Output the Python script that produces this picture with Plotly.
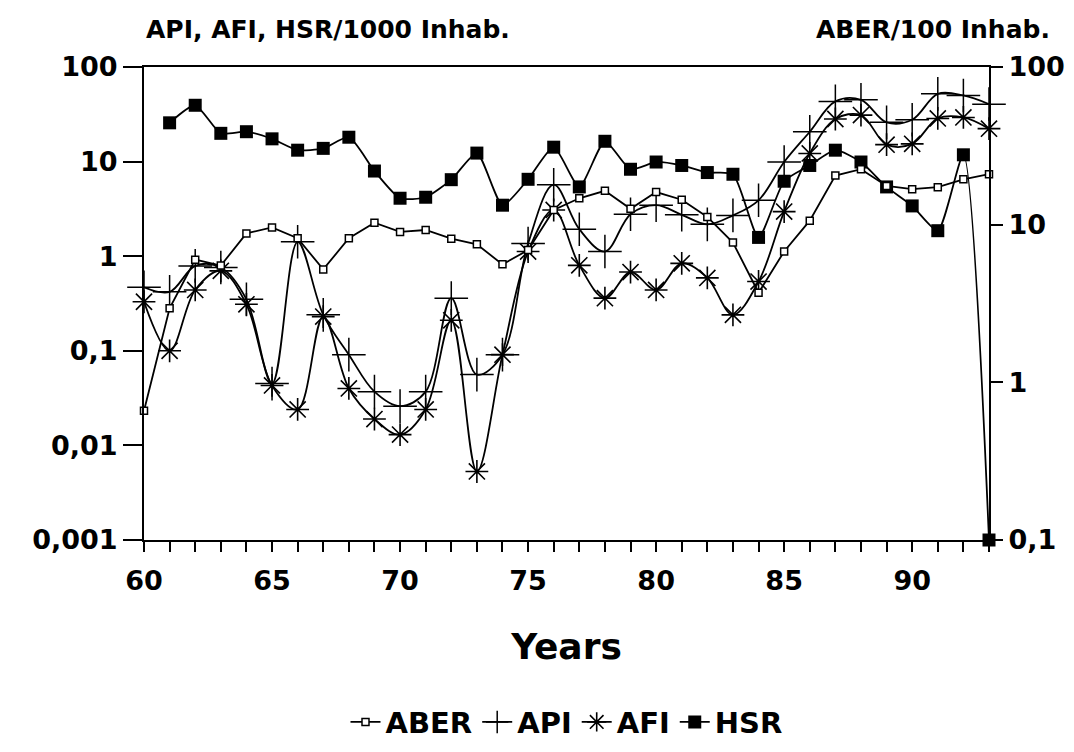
import plotly.graph_objects as go

years = list(range(60, 94))
hsr_years = list(range(61, 94))

aber = [0.66, 2.95, 6.0, 5.5, 8.8, 9.6, 8.2, 5.2, 8.2, 10.3,
        9.0, 9.25, 8.15, 7.5, 5.6, 6.9, 12.4, 14.7, 16.4, 12.6,
        16.1, 14.4, 11.2, 7.7, 3.7, 6.76, 10.6, 20.5, 22.5, 17.6,
        16.8, 17.3, 19.4, 20.9]

api = [0.47, 0.42, 0.79, 0.76, 0.35, 0.045, 1.42, 0.24, 0.091, 0.037,
       0.026, 0.037, 0.36, 0.056, 0.091, 1.36, 5.7, 1.93, 1.12, 2.78,
       3.46, 2.74, 2.17, 2.7, 3.9, 9.9, 20.7, 43.3, 45.0, 26.0,
       27.7, 52.0, 50.0, 40.5]

afi = [0.33, 0.10, 0.44, 0.70, 0.31, 0.043, 0.024, 0.23, 0.04, 0.019,
       0.013, 0.024, 0.21, 0.0053, 0.091, 1.12, 3.08, 0.80, 0.36, 0.68,
       0.44, 0.84, 0.59, 0.24, 0.54, 2.96, 12.2, 28.2, 31.0, 15.1,
       15.4, 28.6, 29.3, 22.3]

hsr = [25.7, 39.4, 19.9, 20.7, 17.4, 13.2, 13.8, 18.1, 7.95,
       4.1, 4.2, 6.44, 12.3, 3.46, 6.5, 14.2, 5.4, 16.4, 8.3,
       9.9, 9.1, 7.66, 7.35, 1.58, 6.2, 9.1, 13.2, 9.9, 5.4,
       3.4, 1.86, 11.8, 0.001]

x_tickvals = list(range(60, 94))
x_ticktext = [str(v) if v % 5 == 0 else "" for v in x_tickvals]
y_tickvals = [0.001, 0.01, 0.1, 1, 10, 100]
y_ticktext = ["0,001", "0,01", "0,1", "1", "10", "100"]
y2_tickvals = [0.1, 1, 10, 100]
y2_ticktext = ["0,1", "1", "10", "100"]

FONT = "DejaVu Sans, Liberation Sans, Arial, sans-serif"

fig = go.Figure()

fig.add_trace(go.Scatter(
    x=years, y=aber, name="ABER", yaxis="y2", mode="lines+markers",
    cliponaxis=False,
    line=dict(color="black", width=1.8),
    marker=dict(symbol="square", size=7, color="white",
                line=dict(color="black", width=1.5)),
))
fig.add_trace(go.Scatter(
    x=years, y=api, name="API", mode="lines+markers",
    cliponaxis=False,
    line=dict(color="black", width=1.8, shape="spline", smoothing=1.0),
    marker=dict(symbol="cross-thin-open", size=24,
                line=dict(color="black", width=1.5)),
))
fig.add_trace(go.Scatter(
    x=years, y=afi, name="AFI", mode="lines+markers",
    cliponaxis=False,
    line=dict(color="black", width=1.8, shape="spline", smoothing=1.0),
    marker=dict(symbol="asterisk-open", size=19,
                line=dict(color="black", width=1.6)),
))
fig.add_trace(go.Scatter(
    x=hsr_years, y=hsr, name="HSR", mode="lines+markers",
    cliponaxis=False,
    line=dict(color="black", width=1.8, shape="spline", smoothing=0.6),
    marker=dict(symbol="square", size=13, color="black"),
))

tickfont = dict(family=FONT, size=27, color="black", weight="bold")

fig.update_layout(
    width=1074, height=752,
    margin=dict(l=136, r=93, t=59, b=199),
    paper_bgcolor="white", plot_bgcolor="white",
    font=dict(family=FONT, color="black"),
    showlegend=True,
    xaxis=dict(
        range=[60, 93], tickmode="array", tickvals=x_tickvals, ticktext=x_ticktext,
        ticks="outside", ticklen=10, tickwidth=1.5, tickcolor="black",
        ticklabelstandoff=6,
        showline=True, linecolor="black", linewidth=2, mirror=True,
        showgrid=False, zeroline=False, tickfont=tickfont,
        title=dict(text="Years", font=dict(family=FONT, size=36, color="black", weight="bold"),
                   standoff=38),
    ),
    yaxis=dict(
        type="log", range=[-3, 2], tickmode="array", tickvals=y_tickvals, ticktext=y_ticktext,
        ticks="outside", ticklen=19, tickwidth=1.5, tickcolor="black",
        showline=True, linecolor="black", linewidth=2,
        showgrid=False, zeroline=False, tickfont=tickfont,
    ),
    yaxis2=dict(
        type="log", range=[-1, 2], tickmode="array", tickvals=y2_tickvals, ticktext=y2_ticktext,
        overlaying="y", side="right",
        ticks="outside", ticklen=12, tickwidth=1.5, tickcolor="black",
        showline=True, linecolor="black", linewidth=2,
        showgrid=False, zeroline=False, tickfont=tickfont,
    ),
    legend=dict(
        orientation="h", x=0.5, xanchor="center", y=-0.385, yanchor="middle",
        font=dict(family=FONT, size=29, color="black", weight="bold"),
        itemwidth=30, bgcolor="rgba(0,0,0,0)",
    ),
    annotations=[
        dict(text="API, AFI, HSR/1000 Inhab.", xref="paper", yref="paper",
             x=0, y=1.08, xanchor="left", yanchor="middle", showarrow=False,
             font=dict(family=FONT, size=25, color="black", weight="bold")),
        dict(text="ABER/100 Inhab.", xref="paper", yref="paper",
             x=1.075, y=1.08, xanchor="right", yanchor="middle", showarrow=False,
             font=dict(family=FONT, size=25, color="black", weight="bold")),
    ],
)

fig.write_html("out.html")
